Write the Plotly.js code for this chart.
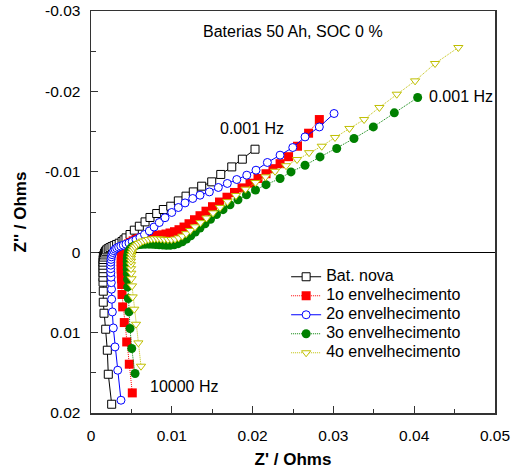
<!DOCTYPE html>
<html>
<head>
<meta charset="utf-8">
<script src="https://cdn.plot.ly/plotly-3.0.1.min.js"></script>
<style>html,body{margin:0;padding:0;background:#fff;}</style>
</head>
<body>
<div id="chart" style="width:517px;height:470px;"></div>
<script>
// Series names
const seriesNames = ["Bat. nova", "1o envelhecimento", "2o envelhecimento", "3o envelhecimento", "4o envelhecimento"];

// Bat. nova (from 10000 Hz down to 0.001 Hz)
const novaZre = [0.00256,0.00214,0.00202,0.00182,0.00161,0.00152,0.00152,0.00149,0.00149,0.00149,0.00149,0.00149,0.00149,0.0015,0.00153,0.0016,0.00168,0.00179,0.00194,0.00213,0.00235,0.0026,0.00287,0.00317,0.00349,0.00384,0.00408,0.00433,0.00483,0.00536,0.00598,0.00669,0.0073,0.00813,0.00895,0.00987,0.01081,0.01176,0.01266,0.0137,0.01494,0.01606,0.01742,0.01873,0.0203];
const novaZim = [0.01891,0.01518,0.01219,0.00958,0.00759,0.00622,0.00485,0.00373,0.00311,0.00255,0.00205,0.00162,0.00124,0.00091,0.00061,0.00034,0.0001,-0.00011,-0.00029,-0.00044,-0.00057,-0.0007,-0.00082,-0.00096,-0.00112,-0.00133,-0.00154,-0.00178,-0.0022,-0.00274,-0.00323,-0.00377,-0.00432,-0.00481,-0.00531,-0.00572,-0.00638,-0.00697,-0.0075,-0.00821,-0.00875,-0.00967,-0.01061,-0.01157,-0.01281];

// 1o envelhecimento
const env1Zre = [0.00511,0.00474,0.00442,0.00412,0.00392,0.00384,0.0038,0.00377,0.00375,0.00374,0.00374,0.00374,0.00375,0.00377,0.00384,0.00392,0.00405,0.00421,0.00441,0.00464,0.00491,0.00522,0.00557,0.00594,0.00637,0.00683,0.0073,0.0078,0.00829,0.00879,0.00928,0.00978,0.01033,0.01089,0.01151,0.01213,0.01281,0.01349,0.01423,0.01504,0.0159,0.01683,0.01776,0.01869,0.01968,0.02067,0.02166,0.02252,0.0234,0.02445,0.02556,0.02693,0.02826];
const env1Zim = [0.0175,0.01393,0.01116,0.00875,0.0068,0.00526,0.00402,0.0033,0.00267,0.00211,0.00162,0.00118,0.00081,0.00047,0.00016,-0.00012,-0.00039,-0.00062,-0.00085,-0.00104,-0.00123,-0.00141,-0.00158,-0.00172,-0.00183,-0.00192,-0.00199,-0.00204,-0.00209,-0.00216,-0.00226,-0.00239,-0.00255,-0.0028,-0.00313,-0.00354,-0.00404,-0.00454,-0.0051,-0.00566,-0.00624,-0.00684,-0.00743,-0.008,-0.00858,-0.00917,-0.00976,-0.01039,-0.01101,-0.01188,-0.01318,-0.0148,-0.0165];

// 2o envelhecimento
const env2Zre = [0.00371,0.00331,0.00297,0.00276,0.00264,0.00256,0.00254,0.00251,0.00248,0.00245,0.00244,0.00244,0.00245,0.00248,0.00252,0.0026,0.0027,0.00282,0.00298,0.00318,0.00342,0.00369,0.004,0.00433,0.0047,0.00511,0.00557,0.00606,0.00662,0.00722,0.0078,0.00845,0.00916,0.00999,0.01081,0.01164,0.01259,0.01349,0.01465,0.01576,0.01687,0.01804,0.01928,0.02042,0.02183,0.0234,0.02497,0.02649,0.02826,0.03008];
const env2Zim = [0.01841,0.01468,0.01178,0.00942,0.00743,0.00585,0.0046,0.00379,0.00311,0.00255,0.00205,0.00162,0.00124,0.0009,0.00058,0.0003,0.00004,-0.00019,-0.00037,-0.00052,-0.00065,-0.00076,-0.00087,-0.001,-0.00114,-0.00133,-0.00155,-0.00184,-0.0022,-0.00264,-0.00313,-0.00369,-0.00429,-0.00494,-0.00556,-0.00613,-0.00668,-0.00709,-0.0075,-0.00805,-0.00855,-0.00904,-0.00958,-0.0102,-0.01116,-0.01207,-0.01302,-0.01434,-0.01558,-0.01725];

// 3o envelhecimento
const env3Zre = [0.00545,0.00504,0.00483,0.0047,0.00462,0.00454,0.00452,0.00449,0.00448,0.00448,0.00448,0.00449,0.00453,0.00459,0.00469,0.00483,0.005,0.00521,0.00546,0.00574,0.00606,0.00641,0.00678,0.00718,0.00759,0.00801,0.00844,0.00889,0.00934,0.00981,0.0103,0.01079,0.0113,0.01182,0.01235,0.01291,0.01349,0.01411,0.01479,0.01553,0.01634,0.0172,0.01819,0.01924,0.02036,0.02166,0.0234,0.02475,0.02649,0.02834,0.03041,0.03255,0.03494,0.03754,0.04043];
const env3Zim = [0.01509,0.01198,0.00949,0.00743,0.00576,0.00432,0.00336,0.00267,0.00211,0.00162,0.00118,0.00081,0.00047,0.00016,-0.00012,-0.00037,-0.00057,-0.00072,-0.00083,-0.00091,-0.00096,-0.00098,-0.001,-0.001,-0.00098,-0.00096,-0.00092,-0.00088,-0.00086,-0.00086,-0.00092,-0.00106,-0.00129,-0.00163,-0.00204,-0.0025,-0.00301,-0.00354,-0.0041,-0.00469,-0.00529,-0.0059,-0.00652,-0.00713,-0.00774,-0.0084,-0.00917,-0.00999,-0.01082,-0.01185,-0.0129,-0.01414,-0.01558,-0.01733,-0.01924];

// 4o envelhecimento
const env4Zre = [0.00619,0.00586,0.00557,0.00536,0.00516,0.00508,0.00502,0.00499,0.00496,0.00495,0.00495,0.00496,0.005,0.00506,0.00515,0.00527,0.00543,0.00563,0.00587,0.00614,0.00644,0.00676,0.0071,0.00748,0.00786,0.00825,0.00866,0.00908,0.00952,0.00995,0.0104,0.01084,0.0113,0.01178,0.01229,0.01287,0.01355,0.01429,0.0151,0.01597,0.01689,0.01794,0.01912,0.02036,0.0216,0.02278,0.02414,0.0255,0.02699,0.02856,0.0302,0.03198,0.0338,0.03569,0.03784,0.04011,0.04258,0.04546];
const env4Zim = [0.01418,0.01128,0.00896,0.00709,0.00556,0.00419,0.0033,0.00261,0.00205,0.00155,0.00112,0.00075,0.00041,0.0001,-0.00019,-0.00045,-0.00068,-0.0009,-0.00108,-0.00124,-0.00138,-0.00149,-0.00158,-0.00164,-0.00167,-0.00167,-0.00164,-0.0016,-0.00158,-0.00158,-0.00164,-0.00178,-0.002,-0.00231,-0.0027,-0.00316,-0.00368,-0.00425,-0.00489,-0.00557,-0.00629,-0.00705,-0.00784,-0.00867,-0.00937,-0.01007,-0.01076,-0.01153,-0.01238,-0.01318,-0.01427,-0.01539,-0.0165,-0.018,-0.01965,-0.02131,-0.02347,-0.02546];

// Tick labels
const xTickVals = [0, 0.01, 0.02, 0.03, 0.04, 0.05];
const xTickText = ["0", "0.01", "0.02", "0.03", "0.04", "0.05"];
const yTickVals = [-0.03, -0.02, -0.01, 0, 0.01, 0.02];
const yTickText = ["-0.03", "-0.02", "-0.01", "0", "0.01", "0.02"];

// Text labels
const chartTitle = "Baterias 50 Ah, SOC 0 %";
const lowFreqLabel = "0.001 Hz";
const highFreqLabel = "10000 Hz";

const FONT = "Liberation Sans, Arial, sans-serif";
const legName = s => '<span style="font-size:16px">' + s + '</span>';
const DOT = "1px,1px";

const traces = [
  {x: novaZre, y: novaZim, name: legName(seriesNames[0]), mode: "lines+markers",
   line: {color: "#000000", width: 1},
   marker: {symbol: "square", size: 8, color: "#ffffff", line: {color: "#000000", width: 1}}},
  {x: env1Zre, y: env1Zim, name: legName(seriesNames[1]), mode: "lines+markers",
   line: {color: "#ff0000", width: 1, dash: DOT},
   marker: {symbol: "square", size: 9, color: "#ff0000", line: {width: 0}}},
  {x: env2Zre, y: env2Zim, name: legName(seriesNames[2]), mode: "lines+markers",
   line: {color: "#0000ff", width: 1},
   marker: {symbol: "circle", size: 8, color: "#ffffff", line: {color: "#0000ff", width: 1}}},
  {x: env3Zre, y: env3Zim, name: legName(seriesNames[3]), mode: "lines+markers",
   line: {color: "#008000", width: 1, dash: DOT},
   marker: {symbol: "circle", size: 9, color: "#008000", line: {width: 0}}},
  {x: env4Zre, y: env4Zim, name: legName(seriesNames[4]), mode: "lines+markers",
   line: {color: "#bfbf00", width: 1, dash: DOT},
   marker: {symbol: "triangle-down", size: 8, color: "#ffffff", line: {color: "#bfbf00", width: 1}}}
];

const layout = {
  width: 517, height: 470,
  margin: {l: 91, r: 22, t: 11, b: 57},
  paper_bgcolor: "#ffffff", plot_bgcolor: "#ffffff",
  font: {family: FONT, size: 15.5, color: "#000000"},
  showlegend: true,
  legend: {x: 0.483, y: 0.375, xanchor: "left", yanchor: "top",
           bgcolor: "rgba(0,0,0,0)", borderwidth: 0,
           font: {family: FONT, size: 12, color: "#000000"}},
  xaxis: {
    range: [0, 0.05], tickmode: "array", tickvals: xTickVals, ticktext: xTickText,
    ticks: "inside", ticklen: 7, tickwidth: 1, tickcolor: "#333333",
    minor: {tickmode: "linear", tick0: 0, dtick: 0.005, ticks: "inside", ticklen: 4, tickcolor: "#333333"},
    showline: true, linecolor: "#333333", linewidth: 1.5, mirror: true,
    showgrid: false, zeroline: false, ticklabelstandoff: 8,
    title: {text: "<b>Z' / Ohms</b>", font: {family: FONT, size: 17}, standoff: 10}
  },
  yaxis: {
    range: [0.02, -0.03], tickmode: "array", tickvals: yTickVals, ticktext: yTickText,
    ticks: "inside", ticklen: 7, tickwidth: 1, tickcolor: "#333333",
    minor: {tickmode: "linear", tick0: 0, dtick: 0.005, ticks: "inside", ticklen: 5, tickcolor: "#333333"},
    showline: true, linecolor: "#333333", linewidth: 1.5, mirror: true,
    showgrid: false, zeroline: true, zerolinecolor: "#000000", zerolinewidth: 1,
    ticklabelstandoff: 6,
    title: {text: "<b>Z'' / Ohms</b>", font: {family: FONT, size: 17}, standoff: 14}
  },
  annotations: [
    {xref: "paper", yref: "paper", x: 0.5, y: 0.948, text: chartTitle, showarrow: false,
     font: {family: FONT, size: 16}, xanchor: "center", yanchor: "middle"},
    {xref: "paper", yref: "paper", x: 0.3985, y: 0.7065, text: lowFreqLabel, showarrow: false,
     font: {family: FONT, size: 16}, xanchor: "center", yanchor: "middle"},
    {xref: "paper", yref: "paper", x: 0.8317, y: 0.787, text: lowFreqLabel, showarrow: false,
     font: {family: FONT, size: 16}, xanchor: "left", yanchor: "middle"},
    {xref: "paper", yref: "paper", x: 0.1418, y: 0.0654, text: highFreqLabel, showarrow: false,
     font: {family: FONT, size: 16}, xanchor: "left", yanchor: "middle"}
  ]
};

Plotly.newPlot("chart", traces, layout, {displayModeBar: false, staticPlot: true});
</script>
</body>
</html>
